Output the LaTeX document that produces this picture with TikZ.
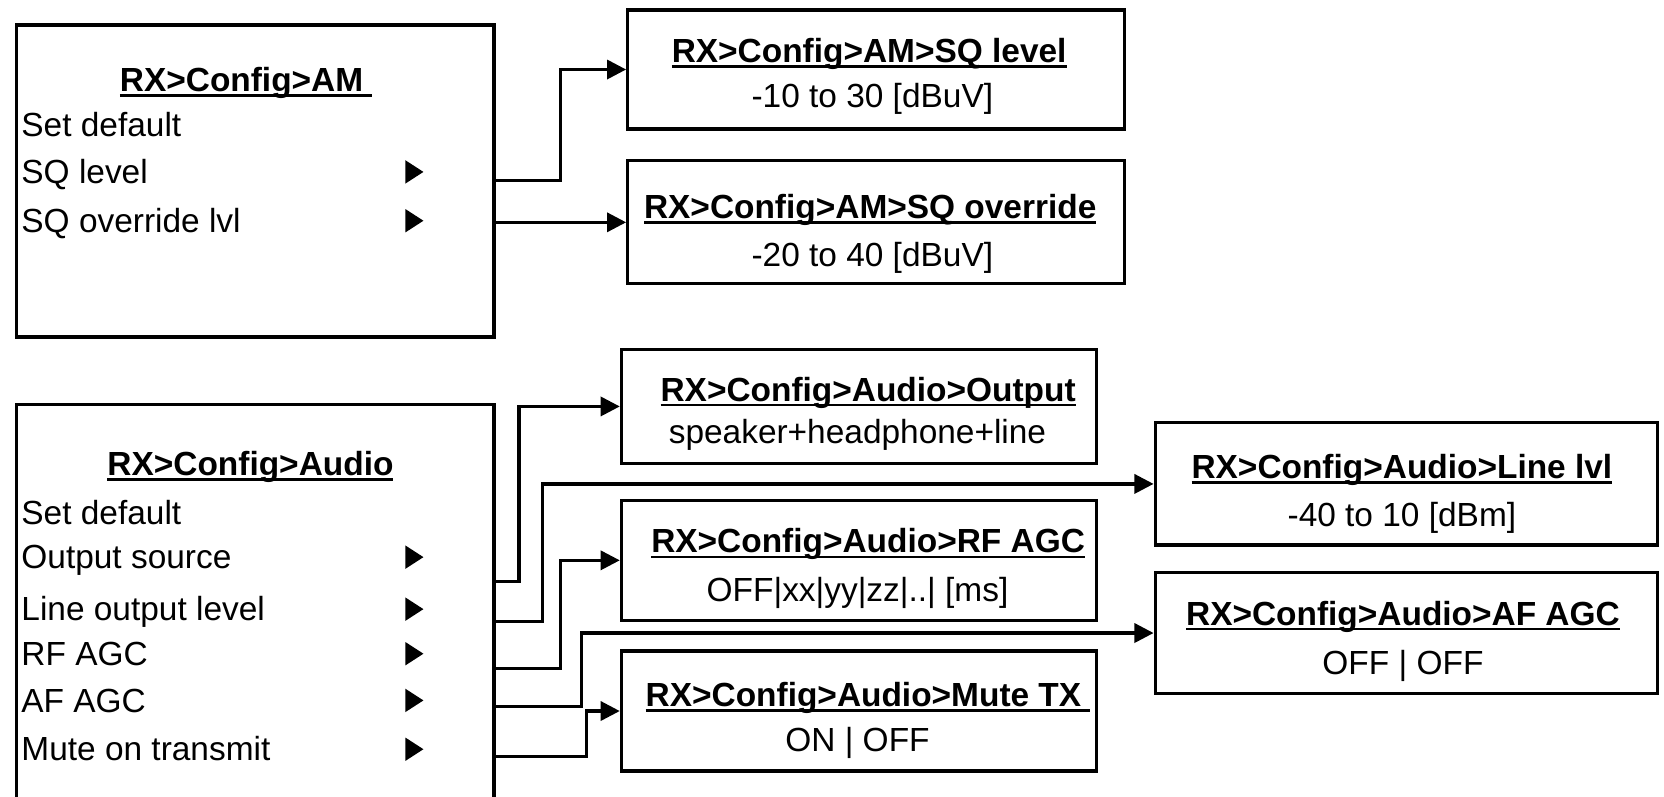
\documentclass[tikz,border=0pt]{standalone}
\usepackage{fontspec}
\setmainfont{Liberation Sans}
\usetikzlibrary{arrows.meta}
\newcommand\ulttl[1]{\setbox0\hbox{\bfseries #1}\rlap{\rule[-5pt]{\wd0}{2.5pt}}\box0}
\begin{document}
\begin{tikzpicture}[x=1pt,y=-1pt,
  box/.style={draw,line width=3pt,inner sep=0pt,anchor=north west},
  ttl/.style={anchor=base,inner sep=0pt,font=\fontsize{31.5}{42}\selectfont\bfseries},
  sub/.style={anchor=base,inner sep=0pt,font=\fontsize{31.5}{42}\selectfont},
  itm/.style={anchor=base west,inner sep=0pt,font=\fontsize{31.5}{42}\selectfont},
  conn/.style={line width=3pt,-{Triangle[length=18pt,width=18pt]}}]
\clip (0,0) rectangle (1568,751);
\fill[white] (0,0) rectangle (1568,751);
% left boxes
\node[box,minimum width=450pt,minimum height=294pt] (am) at (14,22) {};
\node[box,minimum width=450pt,minimum height=420pt] (aud) at (14,380) {};
% AM box texts
\node[ttl] (amt) at (232,86) {\ulttl{RX>Config>AM\ }};
\node[itm] (am1) at (20,129) {Set default};
\node[itm] (am2) at (20,173) {SQ level};
\node[itm] (am3) at (20,219) {SQ override lvl};
% Audio box texts
\node[ttl] (audt) at (236,448) {\ulttl{RX>Config>Audio}};
\node[itm] (au1) at (20,494) {Set default};
\node[itm] (au2) at (20,536) {Output source};
\node[itm] (au3) at (20,585) {Line output level};
\node[itm] (au4) at (20,627) {RF AGC};
\node[itm] (au5) at (20,671) {AF AGC};
\node[itm] (au6) at (20,717) {Mute on transmit};
% menu markers
\foreach \yy in {162,208,525,574,616,660,706}
  \fill (382,\yy-11) -- (399,\yy) -- (382,\yy+11) -- cycle;
% right boxes
\node[box,minimum width=468pt,minimum height=112pt] (sqlvl) at (590,8) {};
\node[box,minimum width=468pt,minimum height=116pt] (sqovr) at (590,150) {};
\node[box,minimum width=448pt,minimum height=107pt] (out) at (584,328) {};
\node[box,minimum width=448pt,minimum height=113pt] (rfagc) at (584,470) {};
\node[box,minimum width=448pt,minimum height=113pt] (mute) at (584,612) {};
\node[box,minimum width=473pt,minimum height=115pt] (linelvl) at (1087,397) {};
\node[box,minimum width=473pt,minimum height=114pt] (afagc) at (1087,538) {};
% right box texts
\node[ttl] (sqlvlt) at (819,59) {\ulttl{RX>Config>AM>SQ level}};
\node[sub] (sqlvls) at (822,101) {-10 to 30 [dBuV]};
\node[ttl] (sqovrt) at (820,206) {\ulttl{RX>Config>AM>SQ override}};
\node[sub] (sqovrs) at (822,251) {-20 to 40 [dBuV]};
\node[ttl] (outt) at (818,378) {\ulttl{RX>Config>Audio>Output}};
\node[sub] (outs) at (808,418) {speaker+headphone+line};
\node[ttl] (rft) at (818,521) {\ulttl{RX>Config>Audio>RF AGC}};
\node[sub] (rfs) at (808,567) {OFF|xx|yy|zz|..| [ms]};
\node[ttl] (mutet) at (818,666) {\ulttl{RX>Config>Audio>Mute TX\ }};
\node[sub] (mutes) at (808,708) {ON | OFF};
\node[ttl] (llt) at (1321,451) {\ulttl{RX>Config>Audio>Line lvl}};
\node[sub] (lls) at (1321,496) {-40 to 10 [dBm]};
\node[ttl] (aft) at (1322,589) {\ulttl{RX>Config>Audio>AF AGC}};
\node[sub] (afs) at (1322,636) {OFF | OFF};
% exits
\coordinate (amx1) at (am.east |- 0,170);
\coordinate (amx2) at (am.east |- sqovr.west);
\coordinate (aux1) at (aud.east |- 0,548);
\coordinate (aux2) at (aud.east |- 0,586);
\coordinate (aux3) at (aud.east |- 0,630);
\coordinate (aux4) at (aud.east |- 0,666);
\coordinate (aux5) at (aud.east |- 0,713);
% connectors
\draw[conn] (amx1) -- ++(61,0) |- (sqlvl.west);
\draw[conn] (amx2) -- (sqovr.west);
\draw[conn] (aux1) -- ++(22,0) |- (out.west);
\draw[conn] (aux2) -- ++(44,0) |- (linelvl.west);
\draw[conn] (aux3) -- ++(61,0) |- (rfagc.west);
\draw[conn] (aux4) -- ++(81,0) |- (afagc.west);
\draw[conn] (aux5) -- ++(86,0) |- (mute.west);
\end{tikzpicture}
\end{document}
